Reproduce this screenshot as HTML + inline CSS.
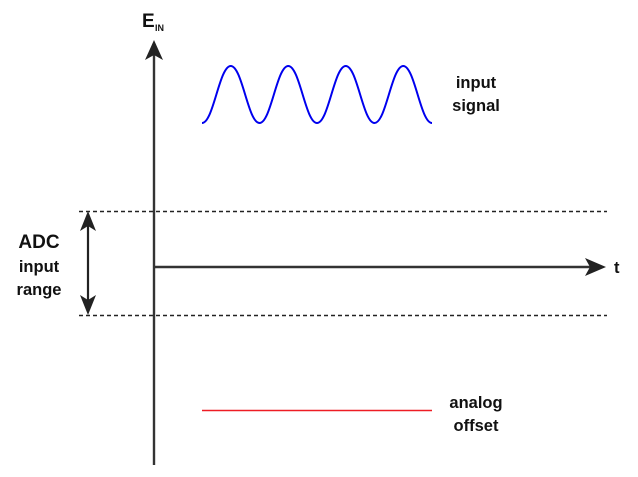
<!DOCTYPE html>
<html><head><style>body{margin:0;background:#fff}svg{display:block}text{font-family:"Liberation Sans",sans-serif;font-weight:bold;fill:#111}</style></head><body>
<svg width="638" height="477" viewBox="0 0 638 477" font-size="16.5">
<g stroke="#222" stroke-width="1.5" stroke-dasharray="4,3" fill="none">
<line x1="79" y1="211.5" x2="607" y2="211.5"/>
<line x1="79" y1="315.5" x2="607" y2="315.5"/>
</g>
<line x1="154" y1="50" x2="154" y2="465" stroke="#333" stroke-width="2.4"/>
<polygon points="154,40 145,60 154,55 163,60" fill="#222"/>
<line x1="154" y1="267" x2="592" y2="267" stroke="#333" stroke-width="2.4"/>
<polygon points="606,267 585,258 590,267 585,276" fill="#222"/>
<line x1="88" y1="222" x2="88" y2="304" stroke="#222" stroke-width="2.2"/>
<polygon points="88,211 80,231 88,226 96,231" fill="#222"/>
<polygon points="88,315 80,295 88,300 96,295" fill="#222"/>
<path d="M202,123 C213.5,123 219.25,66 230.75,66 C242.25,66 248,123 259.5,123 C271,123 276.75,66 288.25,66 C299.75,66 305.5,123 317,123 C328.5,123 334.25,66 345.75,66 C357.25,66 363,123 374.5,123 C386,123 391.75,66 403.25,66 C414.75,66 420.5,123 432,123" stroke="#0000ee" stroke-width="2" fill="none"/>
<line x1="202" y1="410.5" x2="432" y2="410.5" stroke="#ee1c24" stroke-width="1.6"/>
<text x="142" y="27" style="font-size:19px">E</text><text x="155" y="31" style="font-size:9px">IN</text>
<text x="39" y="248" text-anchor="middle" style="font-size:19px">ADC</text>
<text x="39" y="272" text-anchor="middle">input</text>
<text x="39" y="295" text-anchor="middle">range</text>
<text x="476" y="88" text-anchor="middle">input</text>
<text x="476" y="111" text-anchor="middle">signal</text>
<text x="614" y="273">t</text>
<text x="476" y="408" text-anchor="middle">analog</text>
<text x="476" y="431" text-anchor="middle">offset</text>
</svg>
</body></html>
